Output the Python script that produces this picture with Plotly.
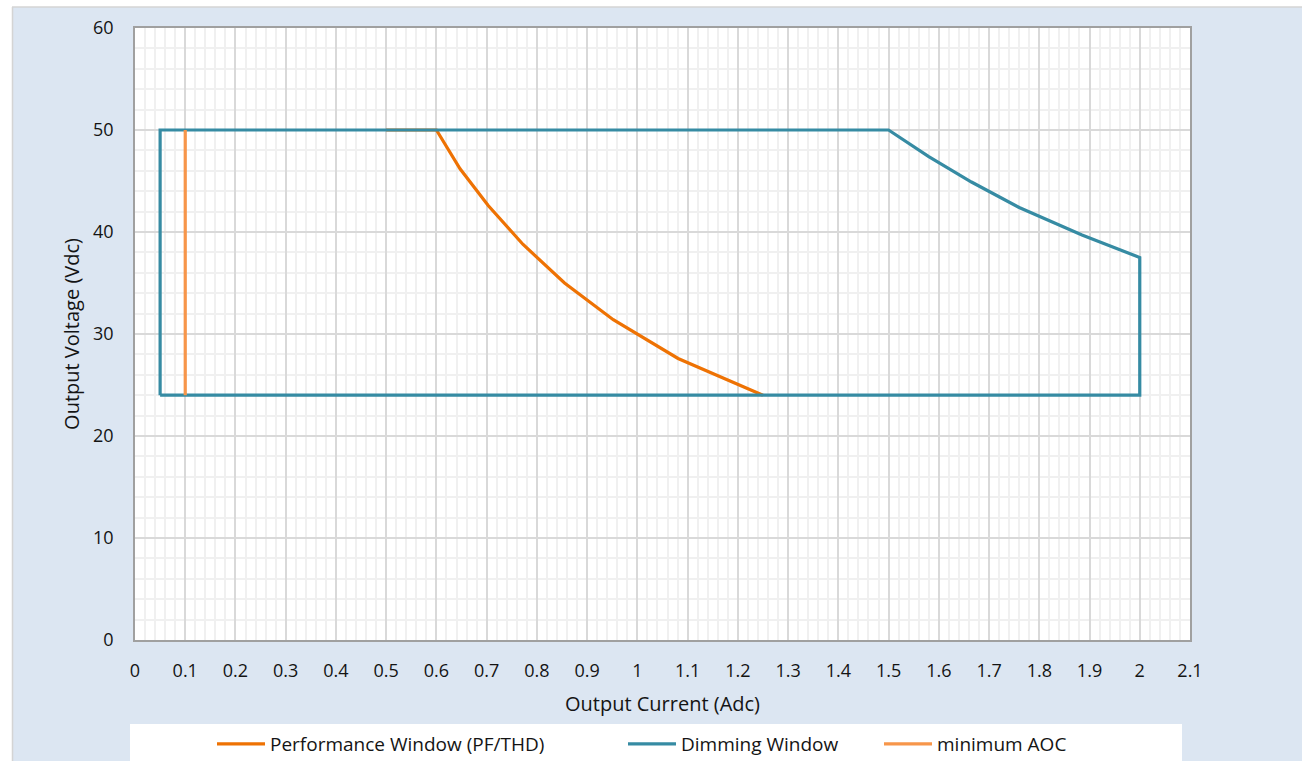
import plotly.graph_objects as go

# Operating windows of the LED driver: output current (A) vs output voltage (V)
perf_current = [0.5, 0.6, 0.647, 0.703, 0.772, 0.855, 0.952, 1.081, 1.25]
perf_voltage = [50, 50, 46.2, 42.6, 38.8, 35.0, 31.4, 27.6, 24]

dim_current = [0.05, 0.05, 1.5, 1.58, 1.665, 1.76, 1.885, 2.0, 2.0, 0.05]
dim_voltage = [24, 50, 50, 47.4, 44.9, 42.4, 39.7, 37.5, 24, 24]

aoc_current = [0.1, 0.1]
aoc_voltage = [24, 50]

series_names = ["Performance Window (PF/THD)", "Dimming Window", "minimum AOC"]
series_colors = ["#ee7203", "#368ba3", "#f7964a"]

W, H = 1302, 761
ML, MR, MT, MB = 135, 112, 28, 121
PW, PH = W - ML - MR, H - MT - MB


def px_x(p):
    return (p - ML) / PW


def px_y(p):
    return (H - MB - p) / PH


FONT = "Open Sans"
BG = "#dce6f2"
INK = "#141414"

fig = go.Figure()
fig.add_trace(go.Scatter(x=perf_current, y=perf_voltage, mode="lines", name=series_names[0],
                         line=dict(color=series_colors[0], width=3.2), legend="legend"))
fig.add_trace(go.Scatter(x=dim_current, y=dim_voltage, mode="lines", name=series_names[1],
                         line=dict(color=series_colors[1], width=3.2), legend="legend2"))
fig.add_trace(go.Scatter(x=aoc_current, y=aoc_voltage, mode="lines", name=series_names[2],
                         line=dict(color=series_colors[2], width=3.2), legend="legend3"))

axis_common = dict(
    showline=True, mirror=True, linecolor="#a0a0a0", linewidth=1.5,
    showgrid=True, gridcolor="#d9d9d9", gridwidth=1.5,
    zeroline=False, ticks="",
    tickfont=dict(family=FONT, size=18, color=INK),
)

fig.update_xaxes(
    range=[0, 2.1], dtick=0.1, tick0=0, ticklabelstandoff=14,
    minor=dict(dtick=0.02, showgrid=True, gridcolor="#f0f0f0", gridwidth=1.5),
    title=dict(text="Output Current (Adc)", font=dict(family=FONT, size=20, color=INK), standoff=16),
    **axis_common,
)
fig.update_yaxes(
    range=[0, 60], dtick=10, tick0=0, ticklabelstandoff=16,
    minor=dict(dtick=2, showgrid=True, gridcolor="#f0f0f0", gridwidth=1.5),
    title=dict(text="Output Voltage (Vdc)", font=dict(family=FONT, size=20, color=INK), standoff=8),
    **axis_common,
)

shapes = [
    # white outer frame strips along top and left edges
    dict(type="rect", xref="paper", yref="paper", x0=px_x(-5), x1=px_x(W + 5), y0=px_y(7), y1=px_y(-5),
         fillcolor="white", line=dict(width=0), layer="below"),
    dict(type="rect", xref="paper", yref="paper", x0=px_x(-5), x1=px_x(12), y0=px_y(H + 5), y1=px_y(-5),
         fillcolor="white", line=dict(width=0), layer="below"),
    dict(type="line", xref="paper", yref="paper", x0=px_x(12), x1=px_x(W + 5), y0=px_y(7), y1=px_y(7),
         line=dict(color="#d4d4d4", width=1.5), layer="below"),
    dict(type="line", xref="paper", yref="paper", x0=px_x(12.5), x1=px_x(12.5), y0=px_y(7), y1=px_y(H + 5),
         line=dict(color="#d4d4d4", width=1.5), layer="below"),
    # legend panel
    dict(type="rect", xref="paper", yref="paper", x0=px_x(130), x1=px_x(1182), y0=px_y(724), y1=px_y(H + 5),
         fillcolor="white", line=dict(width=0), layer="below"),
]

legend_common = dict(
    orientation="h", bgcolor="rgba(0,0,0,0)", borderwidth=0,
    font=dict(family=FONT, size=19, color=INK),
    xref="container", yref="container",
    xanchor="left", yanchor="middle", y=1 - 744 / H, itemwidth=48,
    tracegroupgap=0,
)

fig.update_layout(
    width=W, height=H,
    margin=dict(l=ML, r=MR, t=MT, b=MB, pad=0),
    paper_bgcolor=BG, plot_bgcolor="white",
    shapes=shapes,
    showlegend=True,
    legend=dict(x=212 / W, **legend_common),
    legend2=dict(x=623 / W, **legend_common),
    legend3=dict(x=879 / W, **legend_common),
)

fig.write_html("out.html")
